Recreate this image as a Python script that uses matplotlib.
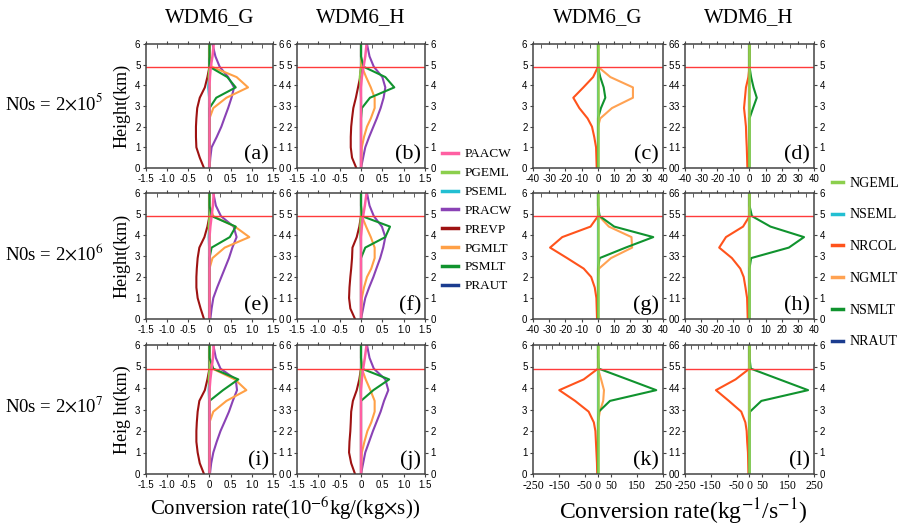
import matplotlib
matplotlib.use("Agg")
import matplotlib.pyplot as plt
from matplotlib.lines import Line2D
from matplotlib.ticker import MultipleLocator

plt.rcParams['axes.unicode_minus'] = False
plt.rcParams['mathtext.fontset'] = 'stix'
serif = 'Liberation Serif'
sans = 'Liberation Sans'

# heights (km) of the profile points
z = [0, 0.5, 1.0, 1.5, 2.0, 2.4, 2.9, 3.4, 3.9, 4.4, 4.9, 5.4, 6.0]
melt_level = 4.9

# mass conversion rates (10^-6 kg/(kg s)), panels a, b, e, f, i, j
PAACW = [
    [0, 0, 0, 0, 0, 0, 0, 0, 0, 0.01, 0.03, 0.07, 0.10],
    [0, 0, 0, 0, 0, 0, 0, 0, 0, 0.02, 0.06, 0.10, 0.13],
    [0, 0, 0, 0, 0, 0, 0, 0, 0, 0.02, 0.05, 0.08, 0.10],
    [0, 0, 0, 0, 0, 0, 0, 0, 0, 0.02, 0.05, 0.09, 0.13],
    [0, 0, 0, 0, 0, 0, 0, 0, 0, 0.02, 0.05, 0.08, 0.10],
    [0, 0, 0, 0, 0, 0, 0, 0, 0, 0.02, 0.05, 0.09, 0.13],
]
PGEML = [
    [0, 0, 0, 0, 0, 0, 0, 0, 0.01, -0.02, 0, 0, 0],
    [0, 0, 0, 0, 0, 0, 0, 0, -0.01, -0.03, 0, 0, 0],
    [0, 0, 0, 0, 0, 0, 0, 0, 0.01, -0.02, 0, 0, 0],
    [0, 0, 0, 0, 0, 0, 0, 0, -0.01, -0.02, 0, 0, 0],
    [0, 0, 0, 0, 0, 0, 0, 0, 0.01, -0.02, 0, 0, 0],
    [0, 0, 0, 0, 0, 0, 0, 0, -0.01, -0.02, 0, 0, 0],
]
PSEML = [
    [0, 0, 0, 0, 0, 0, 0, -0.01, -0.03, -0.02, 0, 0, 0],
    [0, 0, 0, 0, 0, 0, 0, 0, -0.01, -0.01, 0, 0, 0],
    [0, 0, 0, 0, 0, 0, 0, -0.01, -0.02, -0.01, 0, 0, 0],
    [0, 0, 0, 0, 0, 0, 0, 0, -0.01, -0.01, 0, 0, 0],
    [0, 0, 0, 0, 0, 0, 0, -0.01, -0.02, -0.01, 0, 0, 0],
    [0, 0, 0, 0, 0, 0, 0, 0, -0.01, -0.01, 0, 0, 0],
]
PRACW = [
    [0, 0.02, 0.05, 0.17, 0.28, 0.35, 0.44, 0.52, 0.58, 0.44, 0.24, 0.14, 0.07],
    [0, 0.05, 0.10, 0.19, 0.29, 0.37, 0.46, 0.53, 0.57, 0.50, 0.30, 0.20, 0.14],
    [0.02, 0.05, 0.09, 0.18, 0.28, 0.36, 0.46, 0.54, 0.64, 0.57, 0.27, 0.15, 0.09],
    [0, 0.05, 0.10, 0.19, 0.29, 0.36, 0.45, 0.52, 0.57, 0.49, 0.30, 0.20, 0.14],
    [0.01, 0.04, 0.09, 0.17, 0.26, 0.35, 0.46, 0.55, 0.65, 0.62, 0.26, 0.15, 0.09],
    [0, 0.05, 0.10, 0.19, 0.28, 0.36, 0.46, 0.54, 0.64, 0.57, 0.30, 0.20, 0.14],
]
PREVP = [
    [-0.13, -0.23, -0.31, -0.32, -0.32, -0.31, -0.29, -0.23, -0.11, -0.05, 0, 0, 0],
    [-0.11, -0.21, -0.24, -0.24, -0.23, -0.21, -0.18, -0.12, -0.07, -0.02, 0, 0, 0],
    [-0.13, -0.21, -0.28, -0.31, -0.31, -0.30, -0.28, -0.24, -0.12, -0.05, 0, 0, 0],
    [-0.14, -0.25, -0.28, -0.27, -0.25, -0.23, -0.21, -0.20, -0.10, -0.04, 0, 0, 0],
    [-0.13, -0.23, -0.28, -0.31, -0.31, -0.30, -0.28, -0.24, -0.11, -0.05, 0, 0, 0],
    [-0.14, -0.23, -0.28, -0.27, -0.25, -0.24, -0.23, -0.19, -0.10, -0.04, 0, 0, 0],
]
PGMLT = [
    [0, 0, 0, 0, 0, 0, 0.09, 0.40, 0.91, 0.64, 0.05, 0, 0],
    [0, 0.01, 0.02, 0.07, 0.14, 0.23, 0.32, 0.32, 0.23, 0.12, 0.02, 0, 0],
    [0, 0, 0, 0, 0, 0, 0.07, 0.36, 0.94, 0.60, 0.09, 0, 0],
    [0, 0.01, 0.02, 0.07, 0.14, 0.24, 0.32, 0.32, 0.23, 0.12, 0.02, 0, 0],
    [0, 0, 0, 0, 0, 0, 0.09, 0.40, 0.87, 0.60, 0.07, 0, 0],
    [0, 0.01, 0.02, 0.08, 0.15, 0.24, 0.32, 0.32, 0.22, 0.11, 0.02, 0, 0],
]
PSMLT = [
    [0, 0, 0, 0, 0, 0, 0, 0.16, 0.62, 0.42, 0, 0, 0],
    [0, 0, 0, 0, 0, 0, 0.02, 0.21, 0.78, 0.57, 0.06, 0, 0],
    [0, 0, 0, 0, 0, 0, 0, 0.05, 0.48, 0.62, 0.05, 0, 0],
    [0, 0, 0, 0, 0, 0, 0, 0.10, 0.57, 0.68, 0.02, 0, 0],
    [0, 0, 0, 0, 0, 0, 0, 0, 0.32, 0.68, 0.09, 0, 0],
    [0, 0, 0, 0, 0, 0, 0, 0, 0.29, 0.66, 0.02, 0, 0],
]
PRAUT = [[0] * 13 for _ in range(6)]

# number conversion rates (kg^-1 s^-1), panels c, d, g, h, k, l
NGEML = [[0] * 13 for _ in range(6)]
NSEML = [[0] * 13 for _ in range(6)]
NRCOL = [
    [-0.8, -1.0, -1.2, -2.3, -3.7, -6.4, -11.5, -15.2, -9.0, -3.0, 0, 0, 0],
    [-1.3, -1.5, -1.7, -2.0, -2.2, -2.7, -3.4, -2.8, -2.2, -0.7, 0, 0, 0],
    [-0.6, -0.8, -1.0, -2.0, -4.2, -8.8, -19.0, -29.5, -22.0, -4.6, 0, 0, 0],
    [-1.1, -1.3, -1.5, -2.5, -3.6, -5.7, -10.9, -18.8, -14.6, -4.0, 0, 0, 0],
    [-3, -4, -6, -8, -10, -16, -36, -88, -149, -55, 0, 0, 0],
    [-4, -5, -6, -9, -11, -16, -32, -80, -130, -54, 0, 0, 0],
]
NGMLT = [
    [0, 0, 0, 0, 0, 1.4, 8.6, 21.5, 21.5, 7.6, 0, 0, 0],
    [0] * 13,
    [0, 0, 0, 0, 0, 0.6, 8.0, 21.0, 20.6, 6.7, 0.6, 0, 0],
    [0] * 13,
    [0, 0, 0, 0, 0, 0, 7, 20, 23, 12, 0, 0, 0],
    [0] * 13,
]
NSMLT = [
    [0, 0, 0, 0, 0, 0, 1.8, 4.5, 3.5, 1.4, 0, 0, 0],
    [0, 0, 0, 0, 0, 0, 2.2, 4.5, 2.5, 1.0, 0, 0, 0],
    [0, 0, 0, 0, 0, 0, 1.0, 17.0, 34.0, 10.0, 1.0, 0, 0],
    [0, 0, 0, 0, 0, 0, 1.0, 24.4, 33.8, 13.0, 1.5, 0, 0],
    [0, 0, 0, 0, 0, 0, 3, 46, 224, 114, 3, 0, 0],
    [0, 0, 0, 0, 0, 0, 2, 46, 227, 116, 5, 0, 0],
]
NRAUT = [[0] * 13 for _ in range(6)]

left_letters = ['a', 'b', 'e', 'f', 'i', 'j']
right_letters = ['c', 'd', 'g', 'h', 'k', 'l']
row_labels = [r'N0s = 2$\times$10$^5$', r'N0s = 2$\times$10$^6$', r'N0s = 2$\times$10$^7$']
height_labels = ['Height(km)', 'Height(km)', 'Heig ht(km)']

left_vars = [('PAACW', PAACW, '#ff5fa2'), ('PGEML', PGEML, '#8ccf4d'),
             ('PSEML', PSEML, '#22bfd2'), ('PRACW', PRACW, '#8a42b5'),
             ('PREVP', PREVP, '#9e1212'), ('PGMLT', PGMLT, '#ffa046'),
             ('PSMLT', PSMLT, '#10932e'), ('PRAUT', PRAUT, '#1b3c8f')]
right_vars = [('NGEML', NGEML, '#8ccf4d'), ('NSEML', NSEML, '#22bfd2'),
              ('NRCOL', NRCOL, '#ff531c'), ('NGMLT', NGMLT, '#ffa252'),
              ('NSMLT', NSMLT, '#10932e'), ('NRAUT', NRAUT, '#1b3c8f')]
left_order = ['PRAUT', 'PSEML', 'PREVP', 'PGEML', 'PRACW', 'PGMLT', 'PSMLT', 'PAACW']
right_order = ['NRAUT', 'NSEML', 'NGMLT', 'NRCOL', 'NSMLT', 'NGEML']

fig = plt.figure(figsize=(9.04, 5.26), dpi=100, facecolor='white')

col_x = [146, 297, 533, 685]
col_w = [127, 128, 130, 129]
row_y = [44, 193, 345]
row_h = [124, 126, 129]
W, H = 904.0, 526.0


def style_axis(ax, xlim, major, minor, labels, label_font):
    ax.set_xlim(*xlim)
    ax.set_ylim(0, 6)
    ax.set_yticks(range(7))
    ax.set_yticklabels([str(v) for v in range(7)], fontsize=7, family=sans)
    ax.set_xticks(major)
    ax.set_xticklabels(labels, fontsize=label_font[0], family=label_font[1])
    ax.xaxis.set_minor_locator(MultipleLocator(minor))
    ax.tick_params(axis='y', which='major', direction='out', length=2.5, left=True, right=True,
                   labelleft=True, labelright=True, color='#444444', pad=1.5)
    ax.tick_params(axis='x', which='major', direction='out', length=2.5, top=True, bottom=True,
                   color='#444444', pad=2)
    ax.tick_params(axis='x', which='minor', direction='in', length=3, top=True, bottom=False,
                   color='#444444')
    for s in ax.spines.values():
        s.set_color('#444444')
        s.set_linewidth(1.1)


for i in range(6):
    r, c = i // 2, i % 2
    # left group
    ax = fig.add_axes([col_x[c] / W, 1 - (row_y[r] + row_h[r]) / H, col_w[c] / W, row_h[r] / H])
    lv = {n: (d, col) for n, d, col in left_vars}
    for n in left_order:
        d, col = lv[n]
        ax.plot(d[i], z, color=col, lw=1.8 if n == 'PAACW' else 1.5)
    ax.axhline(melt_level, color='#ff3b3b', lw=1)
    style_axis(ax, (-1.5, 1.5), [-1.5, -1.0, -0.5, 0, 0.5, 1.0, 1.5], 0.25,
               ['-1.5', '-1.0', '-0.5', '0', '0.5', '1.0', '1.5'], (7, sans))
    ax.text(0.97, 0.03, '(%s)' % left_letters[i], transform=ax.transAxes, ha='right',
            va='bottom', fontsize=16, family=serif)

    # right group
    ax = fig.add_axes([col_x[c + 2] / W, 1 - (row_y[r] + row_h[r]) / H, col_w[c + 2] / W, row_h[r] / H])
    rv = {n: (d, col) for n, d, col in right_vars}
    for n in right_order:
        d, col = rv[n]
        ax.plot(d[i], z, color=col, lw=1.8 if n == 'NGEML' else 1.5)
    ax.axhline(melt_level, color='#ff3b3b', lw=1)
    if r < 2:
        style_axis(ax, (-40, 40), list(range(-40, 41, 10)), 5,
                   [str(v) for v in range(-40, 41, 10)], (7, sans))
    else:
        style_axis(ax, (-250, 250), [-250, -150, -50, 0, 50, 150, 250], 25,
                   ['-250', '-150', '-50', '0', '50', '150', '250'], (8.5, serif))
    ax.text(0.97, 0.03, '(%s)' % right_letters[i], transform=ax.transAxes, ha='right',
            va='bottom', fontsize=16, family=serif)

# column titles
for x, t in zip([210, 361, 598, 749], ['WDM6_G', 'WDM6_H', 'WDM6_G', 'WDM6_H']):
    fig.text(x / W, 1 - 18 / H, t, ha='center', va='center', fontsize=15, family=serif)

# row annotations
for r in range(3):
    yc = 1 - (row_y[r] + row_h[r] / 2) / H
    fig.text(5 / W, yc + 0.005, row_labels[r], ha='left', va='center', fontsize=13.5, family=serif)
    fig.text(122 / W, yc, height_labels[r], ha='center', va='center', rotation=90,
             fontsize=13, family=serif)

fig.text(285 / W, 1 - 508 / H, r'Conversion rate(10$^{-6}$kg/(kg$\times$s))', ha='center',
         va='center', fontsize=15, family=serif)
fig.text(683 / W, 1 - 512 / H, r'Conversion rate(kg$^{-1}$/s$^{-1}$)', ha='center',
         va='center', fontsize=17, family=serif)

# legends
lh = [Line2D([0], [0], color=col, lw=2.5) for n, d, col in left_vars]
fig.legend(lh, [n for n, d, col in left_vars], loc='upper left',
           bbox_to_anchor=(433 / W, 1 - 139 / H), frameon=False, handlelength=1.2,
           handletextpad=0.5, labelspacing=0.5, borderpad=0.2, prop={'family': serif, 'size': 9.5})
rh = [Line2D([0], [0], color=col, lw=2.5) for n, d, col in right_vars]
fig.legend(rh, [n for n, d, col in right_vars], loc='upper left',
           bbox_to_anchor=(822 / W, 1 - 167 / H), frameon=False, handlelength=0.8,
           handletextpad=0.5, labelspacing=1.35, borderpad=0.2, prop={'family': serif, 'size': 10})

fig.savefig('out.png', dpi=100)
